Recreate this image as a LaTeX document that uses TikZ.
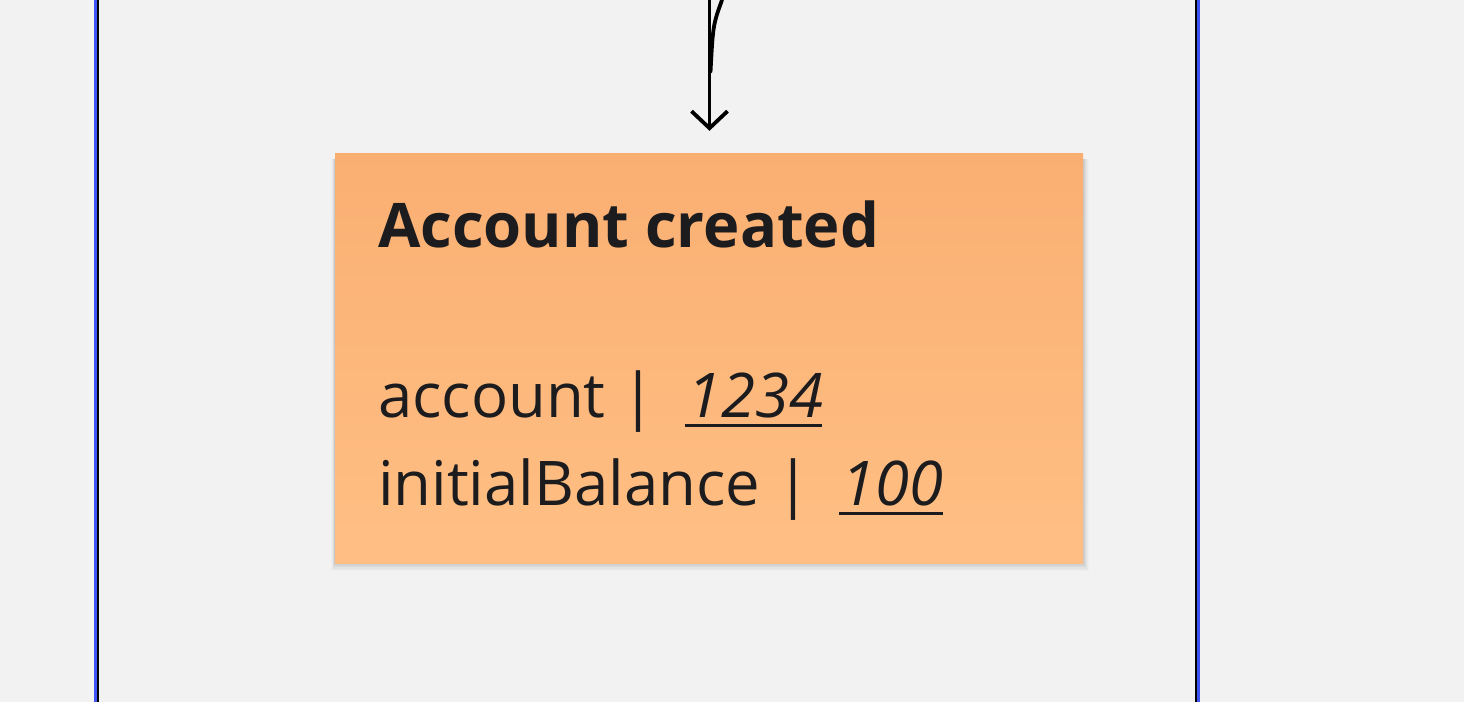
\documentclass[tikz,border=0pt]{standalone}
\usepackage{fontspec}
\setmainfont{Open Sans}
\usetikzlibrary{arrows.meta}
\definecolor{bgcol}{HTML}{F2F2F2}
\definecolor{notetop}{HTML}{FAAF72}
\definecolor{notebot}{HTML}{FFBF84}
\definecolor{inkcol}{HTML}{1C1C1E}
\definecolor{selblue}{HTML}{3D55F5}
\newcommand\myul[1]{\setbox0\hbox{#1}\rlap{\kern-3pt\rule[-9.5pt]{\dimexpr\wd0+2pt\relax}{3pt}}\box0}
\tikzset{
  notebox/.style={draw=none, minimum width=748pt, minimum height=410pt, inner sep=0pt,
    top color=notetop, bottom color=notebot},
  notetitle/.style={anchor=base west, inner sep=0pt, text=inkcol,
    font=\fontsize{61.5}{70}\selectfont\bfseries},
  notebody/.style={anchor=base west, inner sep=0pt, text=inkcol,
    font=\fontsize{61.6}{70}\selectfont},
  flowline/.style={line width=3.8pt, draw=black, line cap=round},
  framelineb/.style={line width=3pt, draw=selblue},
  framelinek/.style={line width=2.4pt, draw=black},
}
\begin{document}
\begin{tikzpicture}[x=1pt,y=-1pt]
\useasboundingbox (0,0) rectangle (1464,702);
\fill[bgcol] (0,0) rectangle (1464,702);
% frame borders
\draw[framelineb] (95.5,0) -- (95.5,702);
\draw[framelinek] (98.2,0) -- (98.2,702);
\draw[framelinek] (1196,0) -- (1196,702);
\draw[framelineb] (1198.5,0) -- (1198.5,702);
% shadow
\foreach \s/\o in {12/0.015,10/0.02,8/0.025,6/0.03,4/0.04,2/0.05}{
  \fill[black,opacity=\o] (335-\s*0.3,153+6) rectangle (1083+\s*0.5,563+\s*0.7);
}
% note
\node[notebox] (note) at (709,358) {};
\node[notetitle] (title) at (378,247) {Account created};
\node[notebody] (l1) at (378,417) {account |\ \ \myul{\itshape 1234}};
\node[notebody] (l2) at (378,505) {initialBalance |\ \ \myul{\itshape 100}};
% connector
\coordinate (src) at (709.5,0);
\coordinate (src2) at (722,0);
\coordinate (join) at (710.5,72);
\draw[flowline] (src2) .. controls (713,25) .. (join);
\draw[flowline, -{Straight Barb[length=17pt,width=36pt,line width=3.8pt]}, shorten >=22pt] (src) -- (note.north -| src);
\end{tikzpicture}
\end{document}
